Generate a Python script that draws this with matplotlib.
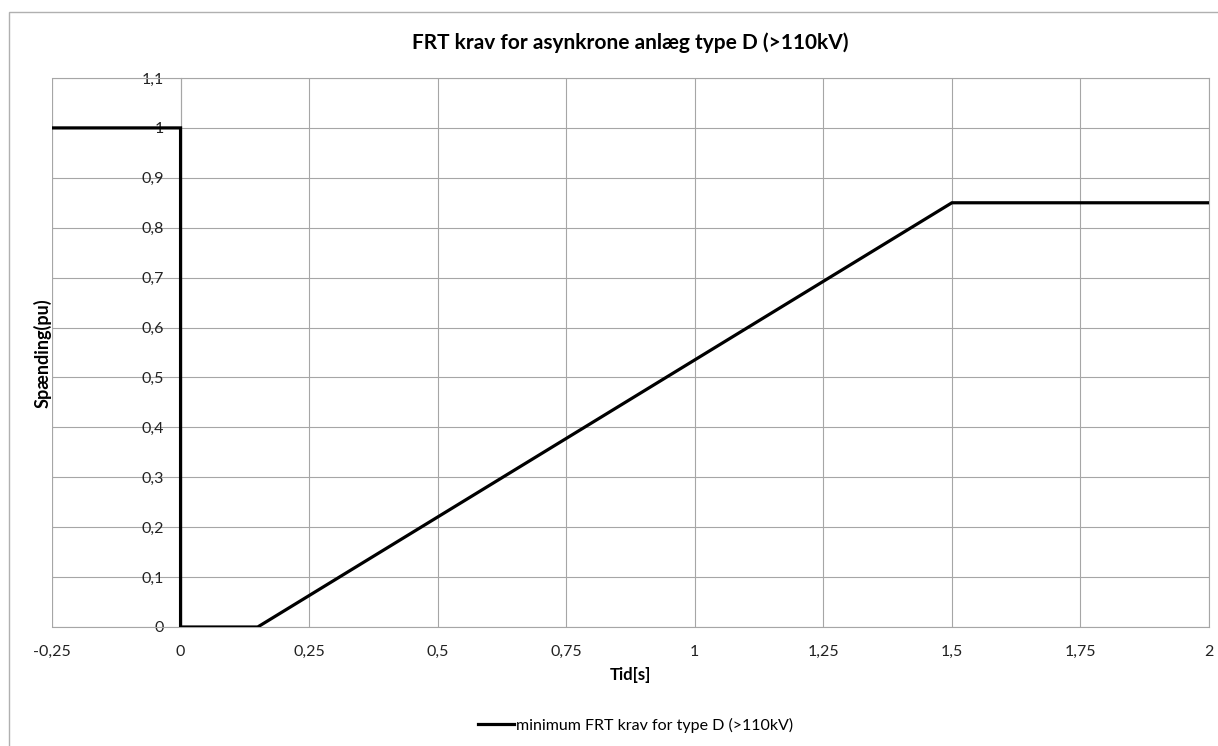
import matplotlib
matplotlib.use("Agg")
import matplotlib.pyplot as plt
from matplotlib.patches import Rectangle
from matplotlib.ticker import FuncFormatter

plt.rcParams['font.family'] = ['Lato', 'DejaVu Sans']

# FRT kurve (tid i s, spaending i pu)
tid = [-0.25, 0.0, 0.0, 0.15, 1.5, 2.0]
spaending = [1.0, 1.0, 0.0, 0.0, 0.85, 0.85]

x_ticks = [-0.25, 0, 0.25, 0.5, 0.75, 1, 1.25, 1.5, 1.75, 2]
y_ticks = [0, 0.1, 0.2, 0.3, 0.4, 0.5, 0.6, 0.7, 0.8, 0.9, 1.0, 1.1]

fig = plt.figure(figsize=(12.18, 7.46), dpi=100)
ax = fig.add_axes([52/1218, 1 - 627/746, (1209 - 52)/1218, (627 - 78)/746])

# chart border (excel style)
fig.patches.append(Rectangle((9/1218, -0.1), 1.2, 1 - 12/746 + 0.1,
                             transform=fig.transFigure, fill=False,
                             edgecolor='#b0b0b0', lw=1))

ax.plot(tid, spaending, color='black', lw=2.3, solid_joinstyle='miter',
        label='minimum FRT krav for type D (>110kV)', zorder=3)

ax.set_xlim(-0.25, 2)
ax.set_ylim(0, 1.1)
ax.set_xticks(x_ticks)
ax.set_yticks(y_ticks)

def komma(v, pos):
    s = ('%.2f' % v).rstrip('0').rstrip('.')
    if s == '-0':
        s = '0'
    return s.replace('.', ',')

ax.xaxis.set_major_formatter(FuncFormatter(komma))
ax.yaxis.set_major_formatter(FuncFormatter(komma))

ax.grid(True, color='#a6a6a6', lw=0.8)
ax.set_axisbelow(True)
for s in ['top', 'right', 'bottom']:
    ax.spines[s].set_color('#a6a6a6')
    ax.spines[s].set_linewidth(0.8)
ax.spines['left'].set_position(('data', 0))
ax.spines['left'].set_color('#a6a6a6')
ax.spines['left'].set_linewidth(0.8)
ax.tick_params(axis='both', length=0, labelsize=11.5, colors='#222222')
ax.tick_params(axis='x', pad=13)
ax.tick_params(axis='y', pad=12)

# left edge line of plot area
ax.axvline(-0.25, color='#a6a6a6', lw=0.8)

ax.set_title('FRT krav for asynkrone anlæg type D (>110kV)', fontsize=15,
             fontweight='bold', pad=21)
ax.set_xlabel('Tid[s]', fontsize=12, fontweight='bold', labelpad=6)
fig.text(42/1218, 1 - 353/746, 'Spænding(pu)', rotation=90, fontsize=13,
         fontweight='bold', ha='center', va='center')

fig.legend(loc='center', bbox_to_anchor=(0.522, 1 - 725/746), frameon=False,
           fontsize=11.5, handlelength=2.2, handletextpad=0.15)

fig.savefig('out.png', dpi=100)
